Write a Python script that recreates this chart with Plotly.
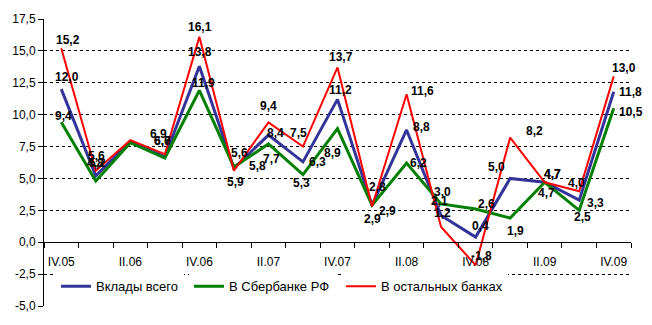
import plotly.graph_objects as go

# Quarters from IV.05 to IV.09
quarters = ["IV.05", "I.06", "II.06", "III.06", "IV.06", "I.07", "II.07", "III.07",
            "IV.07", "I.08", "II.08", "III.08", "IV.08", "I.09", "II.09", "III.09", "IV.09"]

# Deposit growth, %
deposits_total = [12.0, 5.2, 7.9, 6.7, 13.8, 5.8, 8.4, 6.3, 11.2, 2.9, 8.8, 2.1, 0.4, 5.0, 4.7, 3.3, 11.8]
deposits_sber = [9.4, 4.8, 7.8, 6.6, 11.9, 5.9, 7.7, 5.3, 8.9, 2.9, 6.2, 3.0, 2.6, 1.9, 4.7, 2.5, 10.5]
deposits_other = [15.2, 5.6, 8.0, 6.9, 16.1, 5.6, 9.4, 7.5, 13.7, 2.8, 11.6, 1.2, -1.8, 8.2, 4.7, 4.0, 13.0]

series_names = ["Вклады всего", "В Сбербанке РФ", "В остальных банках"]

# Axis ticks
y_ticks = [-5.0, -2.5, 0.0, 2.5, 5.0, 7.5, 10.0, 12.5, 15.0, 17.5]
y_tick_text = ["-5,0", "-2,5", "0,0", "2,5", "5,0", "7,5", "10,0", "12,5", "15,0", "17,5"]
x_tick_pos = list(range(0, len(quarters), 2))
x_tick_text = [quarters[i] for i in x_tick_pos]

# Styling
colors = ["#333399", "#008000", "#FF0000"]
widths = [3, 3, 2]
legend_ids = ["legend", "legend2", "legend3"]
legend_x = [0.0204, 0.247, 0.506]

# Label placement (pixel shifts from each point); None = no label
shift_total = [(6, 12), (2, 13), None, (-2, 16), (1, 14), (24, 2), (7, 2), (15, 0), (3, 9),
               (15, -6), (15, 3), (-2, 14), (5, 11), (-14, 11), (8, 8), (16, -3), (17, 0)]
shift_sber = [(2, 6), (0, 18), None, (-2, 17), (4, 7), (2, -15), (3, -15), (-1, -8), (-5, -24),
              (0, -14), (12, 0), (1, 12), (11, 5), (5, -13), (2, -11), (3, -7), (17, -4)]
shift_other = [(7, 8), (1, 15), None, (-6, 20), (1, 10), (6, 18), (0, 16), (-4, 14), (3, 10),
               (5, 20), (16, 3), (1, 14), (6, 9), (24, 7), (8, 8), (-3, 8), (10, 8)]

all_values = [deposits_total, deposits_sber, deposits_other]
all_shifts = [shift_total, shift_sber, shift_other]

font_family = "Liberation Sans, Arial, sans-serif"
x_idx = list(range(len(quarters)))

fig = go.Figure()
for name, vals, col, w, lg in zip(series_names, all_values, colors, widths, legend_ids):
    fig.add_trace(go.Scatter(
        x=x_idx, y=vals, name=name, mode="lines",
        line=dict(color=col, width=w),
        legend=lg, hoverinfo="skip",
    ))

annotations = []
for vals, shifts in zip(all_values, all_shifts):
    for i, (v, s) in enumerate(zip(vals, shifts)):
        if s is None:
            continue
        annotations.append(dict(
            x=i, y=v, xref="x", yref="y", showarrow=False,
            text=f"{v:.1f}".replace(".", ","),
            xshift=s[0], yshift=s[1],
            font=dict(family=font_family, size=12, color="black", weight="bold"),
        ))

y_min, y_max = -5.0, 17.5

legend_style = dict(
    orientation="h", y=0.069, xanchor="left", yanchor="middle",
    bgcolor="white", borderwidth=0,
    font=dict(family=font_family, size=13, color="black"),
    itemwidth=30,
)

fig.update_layout(
    width=652, height=325,
    margin=dict(l=44, r=21, t=17, b=17),
    paper_bgcolor="white", plot_bgcolor="white",
    font=dict(family=font_family, size=12, color="black"),
    showlegend=True,
    legend=dict(x=legend_x[0], **legend_style),
    legend2=dict(x=legend_x[1], **legend_style),
    legend3=dict(x=legend_x[2], **legend_style),
    annotations=annotations,
    xaxis=dict(
        range=[-0.5, len(quarters) - 0.5],
        tickmode="array", tickvals=x_tick_pos, ticktext=x_tick_text,
        ticks="", showgrid=False, zeroline=False,
        showline=True, linecolor="black", linewidth=1,
        anchor="free", position=(0 - y_min) / (y_max - y_min),
        minor=dict(tickmode="linear", tick0=-0.5, dtick=1, ticks="outside",
                   ticklen=5, tickcolor="black", tickwidth=1, showgrid=False),
        tickfont=dict(size=12),
        ticklabelstandoff=8,
    ),
    yaxis=dict(
        range=[y_min, y_max],
        tickmode="array", tickvals=y_ticks, ticktext=y_tick_text,
        ticks="outside", ticklen=5, tickcolor="black",
        showline=True, linecolor="black", linewidth=1,
        showgrid=True, gridcolor="black", gridwidth=1, griddash="3px,3px",
        zeroline=False,
        tickfont=dict(size=12),
    ),
)

fig.write_html("out.html")
